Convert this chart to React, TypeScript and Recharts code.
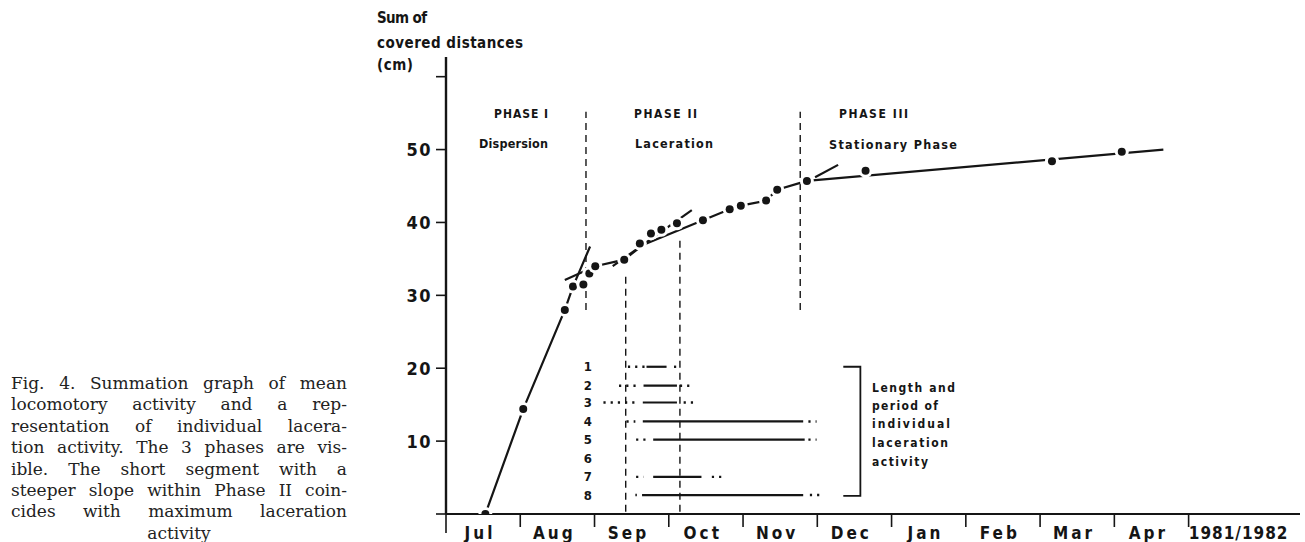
import React from "react";
import { ComposedChart, Line, Scatter, XAxis, YAxis, ReferenceLine } from "recharts";

// x values are months counted from the start of July 1981
const monthLabels = ["Jul", "Aug", "Sep", "Oct", "Nov", "Dec", "Jan", "Feb", "Mar", "Apr", "1981/1982"];
const monthTicks = [0, 1, 2, 3, 4, 5, 6, 7, 8, 9, 10];
const yTicks = [0, 10, 20, 30, 40, 50, 60];

// mean summed distances (cm)
const obsMonth = [0.53, 1.04, 1.6, 1.71, 1.85, 1.93, 2.01, 2.4, 2.61, 2.76, 2.9, 3.11, 3.46, 3.82, 3.97, 4.31, 4.46, 4.86, 5.65, 8.16, 9.1];
const obsValue = [0, 14.4, 28.0, 31.2, 31.5, 33.0, 34.0, 34.9, 37.1, 38.5, 39.0, 39.9, 40.3, 41.8, 42.3, 43.0, 44.5, 45.7, 47.1, 48.4, 49.7];

// fitted segments of the three phases
const phaseIMonth = [0.53, 1.04, 1.6, 1.71, 1.94];
const phaseIValue = [0, 14.4, 28.0, 31.2, 36.7];
const phaseIIMonth = [1.6, 2.01, 2.4, 2.65, 3.46, 3.82, 3.97, 4.31, 4.46, 4.86];
const phaseIIValue = [32.1, 34.0, 34.9, 36.9, 40.3, 41.8, 42.3, 43.0, 44.5, 45.7];
const steepMonth = [2.245, 3.31];
const steepValue = [34.0, 41.7];
const phaseIIEndMonth = [4.97, 5.28];
const phaseIIEndValue = [46.2, 47.9];
const phaseIIIMonth = [4.86, 9.66];
const phaseIIIValue = [45.7, 50.0];

// phase borders and the window of maximum laceration
const phaseBorderMonth = [1.885, 4.77];
const phaseBorderRange = [28.0, 55.2];
const windowMonth = [2.42, 3.15];
const windowTop = [33.2, 38.0];

// individual laceration activity, rows 1..8 (row 6 has none)
const rowNumbers = [1, 2, 3, 4, 5, 6, 7, 8];
const rowLevels = [20.2, 17.6, 15.3, 12.7, 10.2, 7.6, 5.1, 2.6];
const leadDots: (number[] | null)[] = [[2.45, 2.68], [2.33, 2.62], [2.12, 2.57], [2.43, 2.55], [2.56, 2.7], null, [2.56, 2.66], [2.55, 2.57]];
const activeSpan: (number[] | null)[] = [[2.7, 2.97], [2.66, 3.11], [2.65, 3.11], [2.65, 4.81], [2.79, 4.83], null, [2.79, 3.44], [2.64, 4.81]];
const trailDots: (number[] | null)[] = [[3.07, 3.1], [3.15, 3.33], [3.2, 3.33], [4.88, 4.99], [4.88, 4.99], null, [3.58, 3.71], [4.9, 5.04]];

const bracketMonth = [5.35, 5.58];
const rowLabelMonth = 1.91;

const INK = "#151515";
const COND = "'Liberation Sans Narrow', 'DejaVu Sans Condensed', 'Arial Narrow', 'Roboto Condensed', sans-serif";

const pts = (ms: number[], vs: number[]) => ms.map((m, i) => ({ m, v: vs[i] }));

const observations = pts(obsMonth, obsValue);
const rowLabelData = rowNumbers.map((n, i) => ({ m: rowLabelMonth, v: rowLevels[i], n }));
const bracket = [
  { m: bracketMonth[0], v: rowLevels[0] },
  { m: bracketMonth[1], v: rowLevels[0] },
  { m: bracketMonth[1], v: rowLevels[7] - 0.1 },
  { m: bracketMonth[0], v: rowLevels[7] - 0.1 },
];

function MonthTick(props: any) {
  const { x, y, payload } = props;
  const i = payload.value as number;
  const last = i === monthLabels.length - 1;
  return (
    <g>
      <line x1={x} x2={x} y1={y} y2={y + (i === 0 ? 19 : 13)} stroke={INK} strokeWidth={1.6} />
      <text
        x={x + (last ? 50 : 34)}
        y={y + 19}
        textAnchor="middle"
        dominantBaseline="central"
        fill={INK}
        fontFamily={COND}
        fontWeight={700}
        fontSize={17}
        letterSpacing={last ? 1 : 3}
      >
        {monthLabels[i]}
      </text>
    </g>
  );
}

const ObsDot = (p: any) => (
  <g>
    <circle cx={p.cx} cy={p.cy} r={7} fill="#fff" />
    <circle cx={p.cx} cy={p.cy} r={4} fill={INK} />
  </g>
);

const RowLabel = (p: any) => (
  <text x={p.cx} y={p.cy} textAnchor="middle" dominantBaseline="central" fill={INK} fontFamily={COND} fontWeight={700} fontSize={13}>
    {p.payload.n}
  </text>
);

const seg = (key: string, data: { m: number; v: number }[], extra: any = {}) => (
  <Line
    key={key}
    data={data}
    dataKey="v"
    type="linear"
    stroke={INK}
    strokeWidth={2.2}
    dot={false}
    activeDot={false}
    isAnimationActive={false}
    {...extra}
  />
);

const annotations = [
  { t: "Sum of", x: 377, y: 18, w: 50, s: 15 },
  { t: "covered distances", x: 377, y: 43, w: 146, s: 15 },
  { t: "(cm)", x: 377, y: 65, w: 36, s: 15 },
  { t: "PHASE I", x: 494, y: 114, w: 54, s: 12 },
  { t: "Dispersion", x: 479, y: 143, w: 69, s: 12.5 },
  { t: "PHASE II", x: 634, y: 114, w: 63, s: 12 },
  { t: "Laceration", x: 635, y: 143, w: 78, s: 12.5 },
  { t: "PHASE III", x: 839, y: 114, w: 69, s: 12 },
  { t: "Stationary Phase", x: 829, y: 144, w: 128, s: 12.5 },
  { t: "Length and", x: 872, y: 388, w: 83, s: 12 },
  { t: "period of", x: 872, y: 406, w: 66, s: 12 },
  { t: "individual", x: 872, y: 424, w: 78, s: 12 },
  { t: "laceration", x: 872, y: 443, w: 76, s: 12 },
  { t: "activity", x: 872, y: 462, w: 56, s: 12 },
];

const captionLines = [
  "Fig. 4. Summation graph of mean",
  "locomotory activity and a rep-",
  "resentation of individual lacera-",
  "tion activity. The 3 phases are vis-",
  "ible. The short segment with a",
  "steeper slope within Phase II coin-",
  "cides with maximum laceration",
];

export default function App() {
  return (
    <div style={{ position: "absolute", left: 0, top: 0, width: 1305, height: 542, background: "#fff" }}>
      <ComposedChart width={1305} height={542} margin={{ top: 57, right: 5, bottom: 0, left: 0 }}>
        <XAxis
          type="number"
          dataKey="m"
          domain={[0, 11.5]}
          ticks={monthTicks}
          interval={0}
          allowDataOverflow
          height={28}
          tickSize={0}
          tickMargin={0}
          tickLine={false}
          axisLine={{ stroke: INK, strokeWidth: 2.2 }}
          tick={<MonthTick />}
        />
        <YAxis
          type="number"
          dataKey="v"
          domain={[0, 62.7]}
          ticks={yTicks}
          interval={0}
          allowDataOverflow
          width={446}
          tickSize={10}
          tickMargin={4}
          axisLine={{ stroke: INK, strokeWidth: 2.4 }}
          tickLine={{ stroke: INK, strokeWidth: 1.6 }}
          tickFormatter={(v: number) => (v > 0 && v < 60 ? String(v) : "")}
          tick={{ fill: INK, fontSize: 18, fontWeight: 700, fontFamily: COND, letterSpacing: 1.5 }}
        />
        {phaseBorderMonth.map((m) => (
          <ReferenceLine
            key={`pb${m}`}
            segment={[{ x: m, y: phaseBorderRange[0] }, { x: m, y: phaseBorderRange[1] }]}
            stroke={INK}
            strokeWidth={1.4}
            strokeDasharray="7 5"
          />
        ))}
        {windowMonth.map((m, i) => (
          <ReferenceLine
            key={`wm${m}`}
            segment={[{ x: m, y: 0.3 }, { x: m, y: windowTop[i] }]}
            stroke={INK}
            strokeWidth={1.4}
            strokeDasharray="7 5"
          />
        ))}
        {seg("p1", pts(phaseIMonth, phaseIValue))}
        {seg("p2", pts(phaseIIMonth, phaseIIValue))}
        {seg("st", pts(steepMonth, steepValue))}
        {seg("p2e", pts(phaseIIEndMonth, phaseIIEndValue))}
        {seg("p3", pts(phaseIIIMonth, phaseIIIValue))}
        {rowLevels.map((lvl, i) =>
          activeSpan[i]
            ? [
                seg(`ld${i}`, pts(leadDots[i] as number[], [lvl, lvl]), { strokeDasharray: "2.2 5", strokeWidth: 2.4 }),
                seg(`ac${i}`, pts(activeSpan[i] as number[], [lvl, lvl])),
                seg(`tr${i}`, pts(trailDots[i] as number[], [lvl, lvl]), { strokeDasharray: "2.2 5", strokeWidth: 2.4 }),
              ]
            : null
        )}
        {seg("br", bracket, { strokeWidth: 1.8 })}
        <Scatter data={rowLabelData} dataKey="v" shape={<RowLabel />} isAnimationActive={false} />
        <Scatter data={observations} dataKey="v" shape={<ObsDot />} isAnimationActive={false} />
      </ComposedChart>

      <svg width={1305} height={542} style={{ position: "absolute", left: 0, top: 0, pointerEvents: "none" }}>
        {annotations.map((a) => (
          <text
            key={a.t}
            x={a.x}
            y={a.y}
            dominantBaseline="central"
            fill={INK}
            fontFamily={COND}
            fontWeight={700}
            fontSize={a.s}
            textLength={a.w}
            lengthAdjust="spacing"
          >
            {a.t}
          </text>
        ))}
      </svg>

      <div
        style={{
          position: "absolute",
          left: 11,
          top: 373,
          width: 336,
          fontFamily: "'DejaVu Serif', 'Liberation Serif', serif",
          fontSize: 17,
          lineHeight: "21.4px",
          color: "#222",
        }}
      >
        {captionLines.map((l) => (
          <div key={l} style={{ textAlign: "justify", textAlignLast: "justify", whiteSpace: "nowrap" }}>
            {l}
          </div>
        ))}
        <div style={{ textAlign: "center" }}>activity</div>
      </div>
    </div>
  );
}
